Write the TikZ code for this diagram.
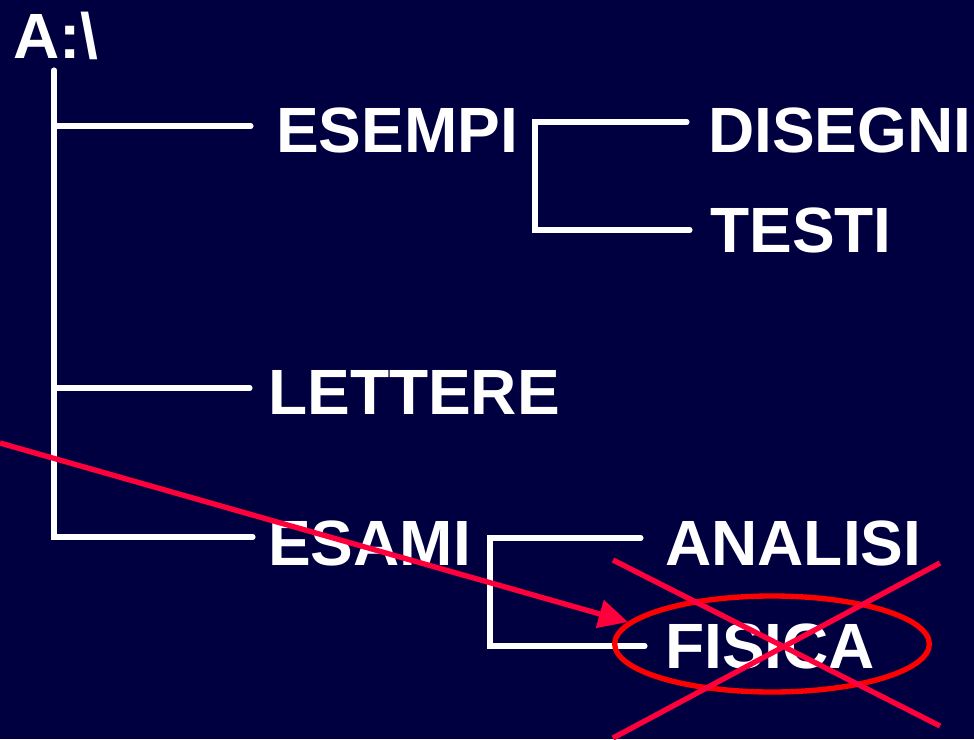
\documentclass[tikz,border=0pt]{standalone}
\usepackage{fontspec}
\setmainfont{Liberation Sans}
\usetikzlibrary{arrows.meta,shapes.geometric}
\definecolor{bg}{RGB}{0,0,64}
\definecolor{xred}{RGB}{255,0,60}
\definecolor{ered}{RGB}{255,0,0}
\begin{document}
\begin{tikzpicture}[x=0.75pt,y=-0.75pt,
  lbl/.style={anchor=base west,inner sep=0pt,text=white,font=\bfseries\fontsize{48}{58}\selectfont},
  tree/.style={draw=white,line width=3.8pt,line cap=round},
  cross/.style={draw=xred,line width=4pt},
  ring/.style={draw=ered,line width=4pt}]
\fill[bg] (0,0) rectangle (974,739);
\useasboundingbox (0,0) rectangle (974,739);
\node[lbl] (root) at (13,58) {A:\textbackslash};
\node[lbl] (esempi) at (276,152) {ESEMPI};
\node[lbl] (disegni) at (708,152) {DISEGNI};
\node[lbl] (testi) at (710,252) {TESTI};
\node[lbl] (lettere) at (268,414) {LETTERE};
\node[lbl] (esami) at (268,565) {ESAMI};
\node[lbl] (analisi) at (665,565) {ANALISI};
\node[lbl] (fisica) at (665,668) {FISICA};
% tree joints
\coordinate (rtop) at (54,70);
\coordinate (r1) at (54,126);
\coordinate (r2) at (54,388);
\coordinate (r3) at (54,537);
\coordinate (e1) at (251,126);
\coordinate (l1) at (250,388);
\coordinate (s1) at (253,537);
\coordinate (bA) at (535,122);
\coordinate (bAr) at (687,122);
\coordinate (bB) at (535,230);
\coordinate (bBr) at (690,230);
\coordinate (cA) at (490,538);
\coordinate (cAr) at (641,538);
\coordinate (cB) at (490,646);
\coordinate (cBr) at (645,646);
\draw[tree] (rtop) -- (r3) -- (s1);
\draw[tree] (r1) -- (e1);
\draw[tree] (r2) -- (l1);
\draw[tree] (bAr) -- (bA) -- (bB) -- (bBr);
\draw[tree] (cAr) -- (cA) -- (cB) -- (cBr);
% red marks
\coordinate (astart) at (0,443);
\coordinate (atip) at (628,622);
\draw[draw=xred,line width=4pt,-{Triangle[length=22pt,width=21pt,fill=xred]}] (astart) -- (atip);
\node[ring,ellipse,minimum width=236pt,minimum height=72pt,inner sep=0pt] (oval) at (772,644) {};
\coordinate (x1a) at (613,560);
\coordinate (x1b) at (940,726);
\coordinate (x2a) at (613,738);
\coordinate (x2b) at (940,563);
\draw[cross] (x1a) -- (x1b);
\draw[cross] (x2a) -- (x2b);
\end{tikzpicture}
\end{document}
